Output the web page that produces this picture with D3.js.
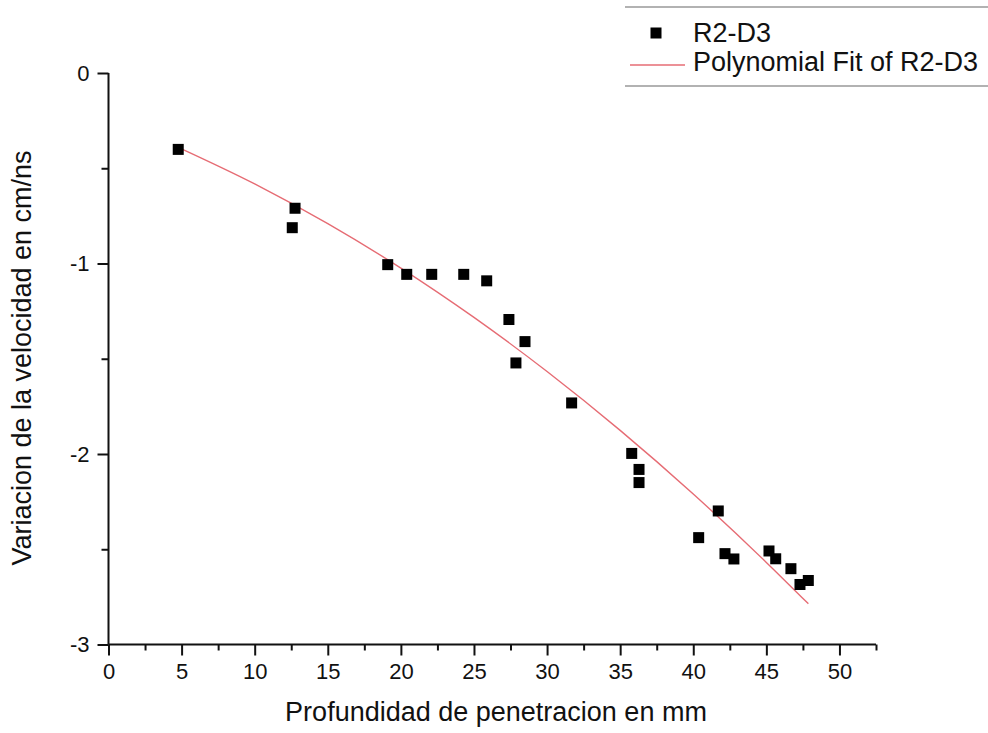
<!DOCTYPE html>
<html>
<head>
<meta charset="utf-8">
<script src="https://cdn.jsdelivr.net/npm/d3@7"></script>
<style>
  html, body { margin: 0; padding: 0; background: #fff; }
  svg { display: block; }
  text { font-family: "Liberation Sans", Arial, sans-serif; fill: #111; }
</style>
</head>
<body>
<svg id="chart" width="988" height="733"></svg>
<script>
// Measured penetration depth (mm) and velocity change (cm/ns), series R2-D3
const depth = [4.77, 12.57, 12.76, 19.10, 20.40, 22.11, 24.30, 25.87, 27.39, 28.49, 27.87, 31.68,
               35.79, 36.29, 36.29, 41.71, 40.37, 42.17, 42.78, 45.18, 45.64, 46.68, 47.87, 47.30];
const velocity = [-0.401, -0.812, -0.710, -1.006, -1.057, -1.057, -1.057, -1.091, -1.294, -1.410, -1.522, -1.732,
                  -1.997, -2.081, -2.150, -2.299, -2.439, -2.523, -2.551, -2.509, -2.550, -2.602, -2.664, -2.685];

// Polynomial fit curve of R2-D3
const fitX = [4.77, 10, 15, 20, 25, 30, 35, 40, 45, 47.87];
const fitY = [-0.390, -0.582, -0.791, -1.024, -1.283, -1.567, -1.876, -2.210, -2.569, -2.786];

// Axis ticks
const xMajor = [0, 5, 10, 15, 20, 25, 30, 35, 40, 45, 50];
const xMinor = [2.5, 7.5, 12.5, 17.5, 22.5, 27.5, 32.5, 37.5, 42.5, 47.5, 52.5];
const yMajor = [0, -1, -2, -3];
const yMinor = [-0.5, -1.5, -2.5];

const seriesName = "R2-D3";
const fitName = "Polynomial Fit of R2-D3";
const xTitle = "Profundidad de penetracion en mm";
const yTitle = "Variacion de la velocidad en cm/ns";

const svg = d3.select("#chart");
const x = d3.scaleLinear().domain([0, 52.5]).range([108.5, 876]);
const y = d3.scaleLinear().domain([-3, 0]).range([644.5, 73]);

const tickFont = 22, titleFont = 27;
const fmt = d => String(d);   // plain hyphen-minus, as printed on the axes

// X axis: major and minor ticks
const gx = svg.append("g").attr("transform", `translate(0,${y(-3)})`);
gx.call(d3.axisBottom(x).tickValues(xMajor).tickSize(11).tickPadding(8).tickFormat(fmt));
gx.append("g").call(d3.axisBottom(x).tickValues(xMinor).tickSize(6).tickFormat(""))
  .select(".domain").remove();

// Y axis
const gy = svg.append("g").attr("transform", `translate(${x(0)},0)`);
gy.call(d3.axisLeft(y).tickValues(yMajor).tickSize(11).tickPadding(8).tickFormat(fmt));
gy.append("g").call(d3.axisLeft(y).tickValues(yMinor).tickSize(7).tickFormat(""))
  .select(".domain").remove();

svg.selectAll(".domain").attr("stroke", "#111").attr("stroke-width", 2);
svg.selectAll(".tick line").attr("stroke", "#111").attr("stroke-width", 2);
svg.selectAll(".tick text").attr("font-size", tickFont).attr("fill", "#111")
  .attr("font-family", "Liberation Sans, Arial, sans-serif");

// Plain axis lines without end caps
gx.select(".domain").attr("d", `M${x(0)},0H${x(52.5)}`);
gy.select(".domain").attr("d", `M0,${y(0)}V${y(-3)}`);

// Fit curve
const line = d3.line().x((d, i) => x(fitX[i])).y(d => y(d)).curve(d3.curveMonotoneX);
svg.append("path").datum(fitY).attr("d", line)
  .attr("fill", "none").attr("stroke", "#e66c74").attr("stroke-width", 1.4);

// Data points
const sq = 11;
svg.append("g").selectAll("rect").data(depth).join("rect")
  .attr("x", d => x(d) - sq / 2)
  .attr("y", (d, i) => y(velocity[i]) - sq / 2)
  .attr("width", sq).attr("height", sq)
  .attr("fill", "#000");

// Axis titles
svg.append("text").attr("x", 496).attr("y", 721).attr("text-anchor", "middle")
  .attr("font-size", titleFont).text(xTitle);
svg.append("text").attr("transform", "translate(31,358) rotate(-90)").attr("text-anchor", "middle")
  .attr("font-size", titleFont).text(yTitle);

// Legend
const lg = svg.append("g");
lg.append("line").attr("x1", 625).attr("x2", 988).attr("y1", 7).attr("y2", 7)
  .attr("stroke", "#999").attr("stroke-width", 1.5);
lg.append("line").attr("x1", 625).attr("x2", 988).attr("y1", 86).attr("y2", 86)
  .attr("stroke", "#999").attr("stroke-width", 1.5);
lg.append("rect").attr("x", 656 - sq / 2).attr("y", 33 - sq / 2).attr("width", sq).attr("height", sq).attr("fill", "#000");
lg.append("text").attr("x", 693).attr("y", 42).attr("font-size", titleFont).text(seriesName);
lg.append("line").attr("x1", 630).attr("x2", 685).attr("y1", 65).attr("y2", 65)
  .attr("stroke", "#e66c74").attr("stroke-width", 1.4);
lg.append("text").attr("x", 693).attr("y", 71).attr("font-size", titleFont).text(fitName);
</script>
</body>
</html>
